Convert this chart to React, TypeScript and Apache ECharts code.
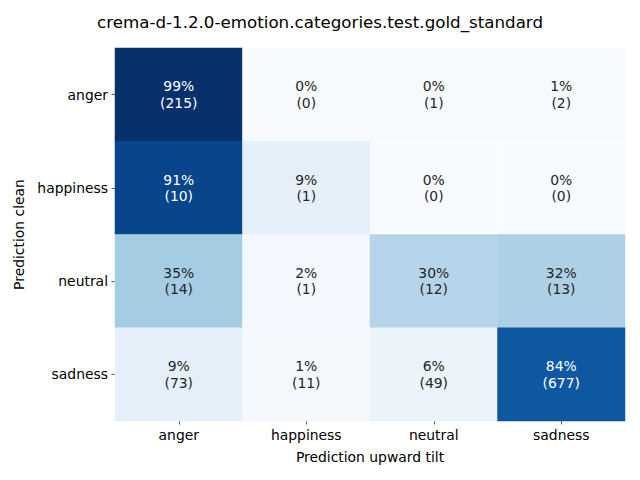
import React, { useEffect, useRef } from "react";
import * as echarts from "echarts";

const title = "crema-d-1.2.0-emotion.categories.test.gold_standard";
const xCategories = ["anger", "happiness", "neutral", "sadness"];
const yCategories = ["anger", "happiness", "neutral", "sadness"];
const xAxisName = "Prediction upward tilt";
const yAxisName = "Prediction clean";

// rows = y categories (Prediction clean), columns = x categories
const countsAnger = [215, 0, 1, 2];
const countsHappiness = [10, 1, 0, 0];
const countsNeutral = [14, 1, 12, 13];
const countsSadness = [73, 11, 49, 677];

const pctAnger = [99, 0, 0, 1];
const pctHappiness = [91, 9, 0, 0];
const pctNeutral = [35, 2, 30, 32];
const pctSadness = [9, 1, 6, 84];

const countRows = [countsAnger, countsHappiness, countsNeutral, countsSadness];
const pctRows = [pctAnger, pctHappiness, pctNeutral, pctSadness];

const blues = [
  "#f7fbff",
  "#deebf7",
  "#c6dbef",
  "#9ecae1",
  "#6baed6",
  "#4292c6",
  "#2171b5",
  "#08519c",
  "#08306b",
];

const FONT = "DejaVu Sans";

export default function App() {
  const ref = useRef<HTMLDivElement>(null);
  useEffect(() => {
    if (!ref.current) return;
    const chart = echarts.init(ref.current, undefined, { renderer: "svg" });
    const data: any[] = [];
    let maxFrac = 0;
    countRows.forEach((row, yi) => {
      const total = row.reduce((a, b) => a + b, 0);
      row.forEach((c, xi) => {
        const frac = total > 0 ? c / total : 0;
        if (frac > maxFrac) maxFrac = frac;
        data.push({
          value: [xi, yi, frac],
          label: { color: frac > 0.6 ? "#ffffff" : "#262626" },
        });
      });
    });
    chart.setOption({
      animation: false,
      backgroundColor: "#ffffff",
      title: {
        text: title,
        left: "center",
        top: 8,
        textStyle: { fontFamily: FONT, fontSize: 16.7, fontWeight: "normal", color: "#000" },
      },
      grid: { left: 115, right: 15, top: 48, bottom: 59 },
      xAxis: {
        type: "category",
        data: xCategories,
        name: xAxisName,
        nameLocation: "middle",
        nameGap: 29,
        nameTextStyle: { fontFamily: FONT, fontSize: 13.9, color: "#000" },
        axisLine: { show: false },
        axisTick: { show: true, alignWithLabel: true, length: 3.5, lineStyle: { color: "#333", width: 0.8 } },
        axisLabel: { fontFamily: FONT, fontSize: 13.9, color: "#000", margin: 7 },
        splitLine: { show: false },
      },
      yAxis: {
        type: "category",
        data: yCategories,
        inverse: true,
        name: yAxisName,
        nameLocation: "middle",
        nameGap: 88,
        nameRotate: 90,
        nameTextStyle: { fontFamily: FONT, fontSize: 13.9, color: "#000" },
        axisLine: { show: false },
        axisTick: { show: true, alignWithLabel: true, length: 3.5, lineStyle: { color: "#333", width: 0.8 } },
        axisLabel: { fontFamily: FONT, fontSize: 13.9, color: "#000", margin: 7 },
        splitLine: { show: false },
      },
      visualMap: {
        show: false,
        min: 0,
        max: maxFrac,
        dimension: 2,
        inRange: { color: blues },
      },
      series: [
        {
          type: "heatmap",
          data,
          itemStyle: { borderWidth: 0 },
          emphasis: { disabled: true },
          label: {
            show: true,
            fontFamily: FONT,
            fontSize: 13.9,
            lineHeight: 16.7,
            formatter: (p: any) => {
              const xi = p.value[0];
              const yi = p.value[1];
              return `${pctRows[yi][xi]}%\n(${countRows[yi][xi]})`;
            },
          },
        },
      ],
    });
    return () => chart.dispose();
  }, []);
  return <div ref={ref} style={{ width: 640, height: 480, position: "absolute", left: 0, top: 0 }} />;
}
